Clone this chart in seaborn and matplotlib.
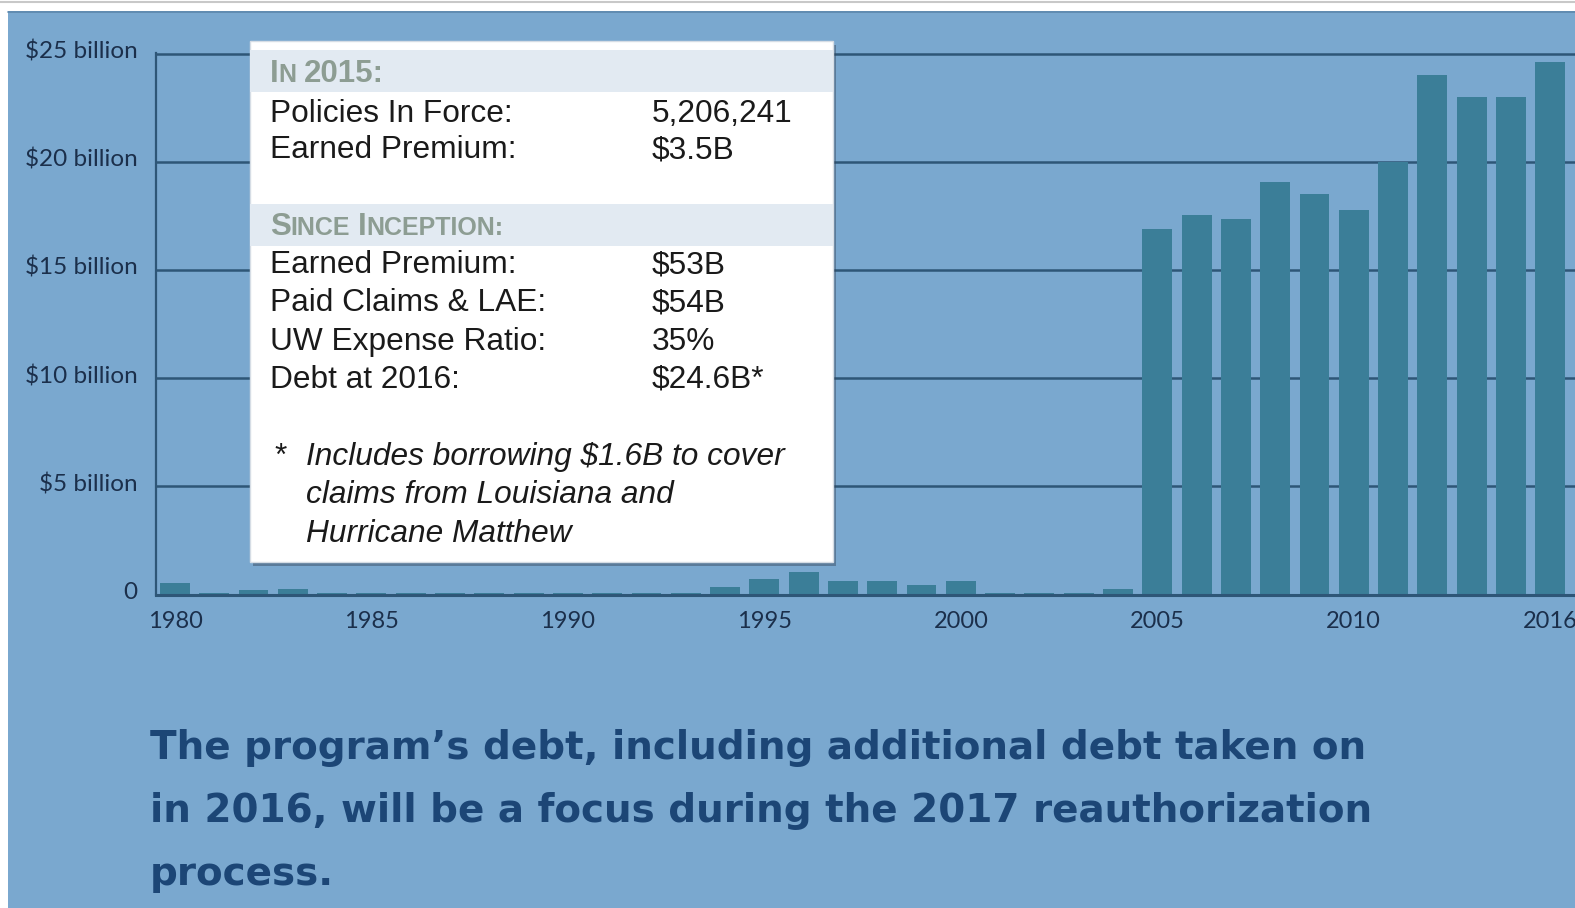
import matplotlib
matplotlib.use("Agg")
import matplotlib.pyplot as plt
import matplotlib.patches as mpatches
import matplotlib.transforms as mtransforms
import seaborn as sns
import pandas as pd

# ---------------- data ----------------
years = [str(y) for y in range(1980, 2015)] + ["2016"]
debt_billions = [
    0.55, 0.08, 0.20, 0.27, 0.08, 0.08, 0.08, 0.08, 0.08, 0.08,
    0.08, 0.08, 0.08, 0.08, 0.35, 0.73, 1.04, 0.64, 0.64, 0.46,
    0.64, 0.08, 0.08, 0.08, 0.27, 16.9, 17.55, 17.35, 19.05, 18.5,
    17.75, 20.0, 24.0, 23.0, 23.0, 24.6,
]
tick_years = ["1980", "1985", "1990", "1995", "2000", "2005", "2010", "2016"]
ytick_values = [0, 5, 10, 15, 20, 25]
ytick_labels = ["0", "$5 billion", "$10 billion", "$15 billion", "$20 billion", "$25 billion"]

box_2015_labels = ["Policies In Force:", "Earned Premium:"]
box_2015_values = ["5,206,241", "$3.5B"]
box_incep_labels = ["Earned Premium:", "Paid Claims & LAE:", "UW Expense Ratio:", "Debt at 2016:"]
box_incep_values = ["$53B", "$54B", "35%", "$24.6B*"]
footnote_lines = ["Includes borrowing $1.6B to cover", "claims from Louisiana and", "Hurricane Matthew"]
caption_lines = [
    "The program\u2019s debt, including additional debt taken on",
    "in 2016, will be a focus during the 2017 reauthorization",
    "process.",
]

# ---------------- style ----------------
W, H = 1575, 908
BG = "#7aa8cf"
BAR = "#3b7e98"
GRID = "#2e5677"
TICK = "#1b2f4b"
CAPTION = "#1c4676"
HEADER = "#8d9d93"
BAND = "#e2eaf2"

sns.set_theme(style="white")
plt.rcParams["font.family"] = ["Lato", "DejaVu Sans"]

fig = plt.figure(figsize=(W / 100, H / 100), dpi=100)
fig.patch.set_facecolor("white")

# background panel (pixel coordinates)
bg = fig.add_axes([0, 0, 1, 1], zorder=0)
bg.set_xlim(0, W)
bg.set_ylim(H, 0)
bg.axis("off")
bg.add_patch(mpatches.Rectangle((8, 11), W - 8, H - 11, facecolor=BG, edgecolor="none"))
bg.plot([0, W], [2, 2], color="#c8c8c8", lw=1.5)
bg.plot([8, W], [11.5, 11.5], color="#5d87ab", lw=1.2)

# ---------------- chart ----------------
left_px, right_px, top_px, bottom_px = 155.7, W, 52.5, 594.5
ax = fig.add_axes([left_px / W, 1 - bottom_px / H, (right_px - left_px) / W, (bottom_px - top_px) / H], zorder=1)
ax.patch.set_alpha(0)

df = pd.DataFrame({"year": years, "debt": debt_billions})
sns.barplot(data=df, x="year", y="debt", order=years, color=BAR, saturation=1,
            width=0.76, errorbar=None, ax=ax, zorder=2, edgecolor="none", linewidth=0)

ax.set_xlim(-0.49, len(years) - 0.37)
ax.set_ylim(0, 25.05)
ax.set_yticks(ytick_values, ytick_labels)
ax.set_xticks([years.index(t) for t in tick_years], tick_years)
ax.set_xlabel("")
ax.set_ylabel("")
ax.yaxis.grid(True, color=GRID, lw=1.8)
ax.xaxis.grid(False)
ax.set_axisbelow(True)
for s in ["top", "right"]:
    ax.spines[s].set_visible(False)
ax.spines["left"].set_color(GRID)
ax.spines["left"].set_linewidth(1.6)
ax.spines["bottom"].set_color(GRID)
ax.spines["bottom"].set_linewidth(2.2)
ax.tick_params(axis="y", length=0, pad=13, labelsize=17.5, labelcolor=TICK)
ax.tick_params(axis="x", length=0, pad=12, labelsize=17, labelcolor=TICK)
shift = mtransforms.ScaledTranslation(0, 4 / 100, fig.dpi_scale_trans)
for lab in ax.get_yticklabels():
    lab.set_transform(lab.get_transform() + shift)

# ---------------- overlay (info box + caption) ----------------
ov = fig.add_axes([0, 0, 1, 1], zorder=3)
ov.set_xlim(0, W)
ov.set_ylim(H, 0)
ov.axis("off")
ov.patch.set_alpha(0)

bx, by, bw, bh = 250, 41, 583, 521
ov.add_patch(mpatches.Rectangle((bx + 3, by + 4), bw, bh, facecolor="#33465a", alpha=0.45, edgecolor="none"))
ov.add_patch(mpatches.Rectangle((bx, by), bw, bh, facecolor="white", edgecolor="#d6dde5", lw=1))
ov.add_patch(mpatches.Rectangle((bx, 50), bw, 42, facecolor=BAND, edgecolor="none"))
ov.add_patch(mpatches.Rectangle((bx, 204), bw, 42, facecolor=BAND, edgecolor="none"))

renderer = fig.canvas.get_renderer()
BODY = ["Liberation Sans", "DejaVu Sans"]


def small_caps(x, y, parts):
    for text, size, gap in parts:
        t = ov.text(x, y, text, fontsize=size, fontweight="bold", color=HEADER,
                    va="baseline", ha="left", family=BODY)
        x += t.get_window_extent(renderer).width + gap


big, small = 22.5, 18
small_caps(270, 81.5, [("I", big, 0), ("N", small, 7), ("2015:", big, 0)])
small_caps(270, 235, [("S", big, 0), ("INCE", small, 7), ("I", big, 0), ("NCEPTION:", small, 0)])

body_size = 22.8
for i, (lab, val) in enumerate(zip(box_2015_labels, box_2015_values)):
    yb = 121.5 + i * 37
    ov.text(270, yb, lab, fontsize=body_size, color="#1a1a1a", va="baseline", family=BODY)
    ov.text(652, yb, val, fontsize=body_size, color="#1a1a1a", va="baseline", family=BODY)
for i, (lab, val) in enumerate(zip(box_incep_labels, box_incep_values)):
    yb = 273 + i * 38.3
    ov.text(270, yb, lab, fontsize=body_size, color="#1a1a1a", va="baseline", family=BODY)
    ov.text(652, yb, val, fontsize=body_size, color="#1a1a1a", va="baseline", family=BODY)

ov.text(274, 465, "*", fontsize=body_size, color="#1a1a1a", va="baseline", family=BODY)
for i, line in enumerate(footnote_lines):
    ov.text(306, 465 + i * 38.3, line, fontsize=body_size, style="italic",
            color="#1a1a1a", va="baseline", family=BODY)

for i, line in enumerate(caption_lines):
    ov.text(150, 759 + i * 63, line, fontsize=28, fontweight="bold", color=CAPTION,
            va="baseline", ha="left", family=["DejaVu Sans"])

fig.savefig("out.png", dpi=100, facecolor=fig.get_facecolor())
